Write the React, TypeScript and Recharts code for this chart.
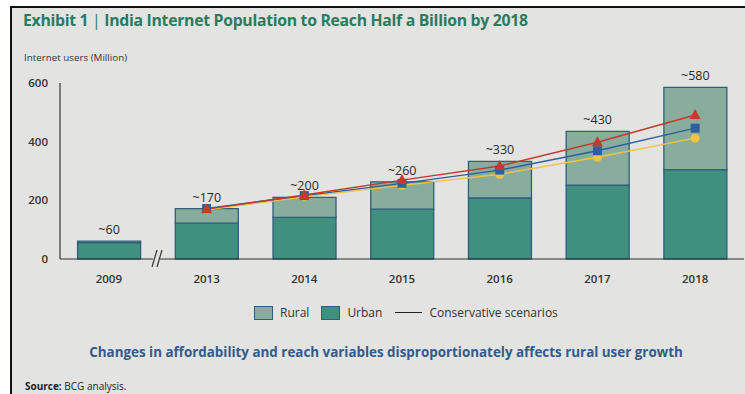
import React from 'react';
import { ComposedChart, Bar, Line, XAxis, YAxis, LabelList } from 'recharts';

const years = ['2009', '2013', '2014', '2015', '2016', '2017', '2018'];
const urban = [56, 122, 142, 170, 208, 252, 305];
const rural = [5, 50, 68, 93, 125, 183, 280];
const totalLabels = ['~60', '~170', '~200', '~260', '~330', '~430', '~580'];
const scenarioHigh = [null, 170, 218, 269, 317, 398, 491];
const scenarioMid = [null, 172, 216, 258, 303, 369, 446];
const scenarioLow = [null, 168, 212, 251, 289, 347, 412];
const yTicks = [0, 200, 400, 600];

const FONT = '"Open Sans", "Noto Sans", sans-serif';
const BG = '#e3e3e1';
const RURAL = '#88ad9d';
const URBAN = '#3f907f';
const EDGE = '#2f5e7c';
const RED = '#c43b2c';
const BLUE = '#2f5f9c';
const YELLOW = '#f1c445';

const data = years.map((year, i) => ({
  year,
  urban: urban[i],
  rural: rural[i],
  label: totalLabels[i],
  high: scenarioHigh[i],
  mid: scenarioMid[i],
  low: scenarioLow[i],
}));

// markers for the three scenario lines
const Triangle = (props: any) => {
  const { cx, cy, index } = props;
  if (cx == null || cy == null || props.value == null) return <g key={index} />;
  return <path key={index} d={`M${cx},${cy - 6} L${cx + 5.5},${cy + 4} L${cx - 5.5},${cy + 4} Z`} fill={RED} />;
};
const Square = (props: any) => {
  const { cx, cy, index } = props;
  if (cx == null || cy == null || props.value == null) return <g key={index} />;
  return <rect key={index} x={cx - 4.5} y={cy - 4.5} width={9} height={9} fill={BLUE} />;
};
const Circle = (props: any) => {
  const { cx, cy, index } = props;
  if (cx == null || cy == null || props.value == null) return <g key={index} />;
  return <circle key={index} cx={cx} cy={cy} r={4.5} fill={YELLOW} />;
};

export default function App() {
  return (
    <div style={{ position: 'absolute', left: 0, top: 0, width: 745, height: 394, background: '#fff', overflow: 'hidden', fontFamily: FONT }}>
      <div style={{ position: 'absolute', left: 10, top: 6, right: 0, bottom: 0, background: BG, borderTop: '2px solid #111', borderLeft: '2px solid #111' }} />

      <div style={{ position: 'absolute', left: 23, top: 9, fontSize: 15.8, fontWeight: 700, color: '#2b7b5f', whiteSpace: 'nowrap', letterSpacing: -0.3 }}>
        Exhibit 1 <span style={{ fontWeight: 400 }}>|</span> India Internet Population to Reach Half a Billion by 2018
      </div>
      <div style={{ position: 'absolute', left: 24, top: 51, fontSize: 9.8, color: '#333', whiteSpace: 'nowrap' }}>
        Internet users (Million)
      </div>

      <div style={{ position: 'absolute', left: 0, top: 0 }}>
        <ComposedChart width={745} height={300} data={data} margin={{ top: 83, right: 1, bottom: 11, left: 0 }} barCategoryGap="18%">
          <XAxis
            dataKey="year"
            height={30}
            tickLine={false}
            axisLine={{ stroke: '#333', strokeWidth: 1.2 }}
            tick={{ fill: '#333', fontSize: 11.5, fontWeight: 600, fontFamily: FONT }}
            tickMargin={10}
            interval={0}
          />
          <YAxis
            width={60}
            domain={[0, 600]}
            ticks={yTicks}
            tickLine={false}
            tickSize={0}
            tickMargin={12}
            axisLine={{ stroke: '#333', strokeWidth: 1.2 }}
            tick={{ fill: '#333', fontSize: 11.5, fontWeight: 600, fontFamily: FONT }}
          />
          <Bar dataKey="urban" stackId="a" fill={URBAN} stroke={EDGE} strokeWidth={1.3} isAnimationActive={false} />
          <Bar dataKey="rural" stackId="a" fill={RURAL} stroke={EDGE} strokeWidth={1.3} isAnimationActive={false}>
            <LabelList dataKey="label" position="top" offset={7} style={{ fill: '#2a2a2a', fontSize: 12.5, fontFamily: FONT }} />
          </Bar>
          <Line dataKey="low" stroke={YELLOW} strokeWidth={1.4} dot={Circle} isAnimationActive={false} />
          <Line dataKey="mid" stroke={BLUE} strokeWidth={1.4} dot={Square} isAnimationActive={false} />
          <Line dataKey="high" stroke={RED} strokeWidth={1.4} dot={Triangle} isAnimationActive={false} />
        </ComposedChart>
      </div>

      {/* axis break */}
      <svg style={{ position: 'absolute', left: 148, top: 248 }} width={20} height={22}>
        <rect x={5} y={9} width={7} height={4} fill={BG} />
        <line x1={4} y1={19} x2={9} y2={2} stroke="#333" strokeWidth={1.2} />
        <line x1={9} y1={19} x2={14} y2={2} stroke="#333" strokeWidth={1.2} />
      </svg>

      {/* legend */}
      <div style={{ position: 'absolute', left: 254, top: 304, display: 'flex', alignItems: 'center', fontSize: 12, color: '#333', whiteSpace: 'nowrap' }}>
        <span style={{ width: 17, height: 12, background: RURAL, border: `1px solid ${EDGE}`, display: 'inline-block' }} />
        <span style={{ marginLeft: 7 }}>Rural</span>
        <span style={{ width: 17, height: 12, background: URBAN, border: `1px solid ${EDGE}`, display: 'inline-block', marginLeft: 12 }} />
        <span style={{ marginLeft: 7 }}>Urban</span>
        <span style={{ width: 27, height: 0, borderTop: '1.3px solid #222', display: 'inline-block', marginLeft: 13 }} />
        <span style={{ marginLeft: 7 }}>Conservative scenarios</span>
      </div>

      <div style={{ position: 'absolute', left: 0, width: 772, top: 343, textAlign: 'center', fontSize: 13.4, fontWeight: 700, color: '#315b8c', whiteSpace: 'nowrap' }}>
        Changes in affordability and reach variables disproportionately affects rural user growth
      </div>

      <div style={{ position: 'absolute', left: 25, top: 379, fontSize: 10, color: '#222', whiteSpace: 'nowrap' }}>
        <b>Source:</b> BCG analysis.
      </div>
    </div>
  );
}
